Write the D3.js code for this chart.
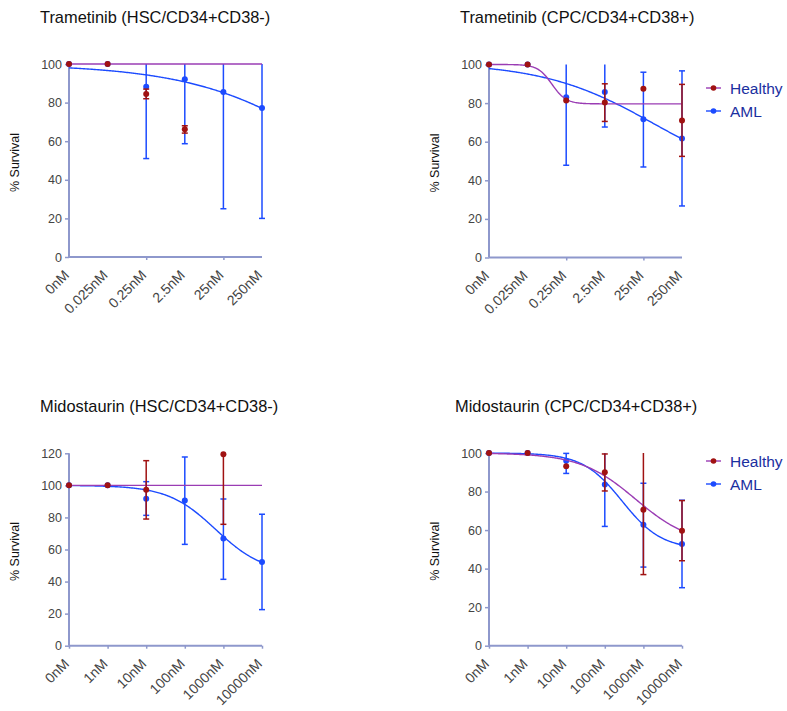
<!DOCTYPE html>
<html>
<head>
<meta charset="utf-8">
<script src="https://cdn.jsdelivr.net/npm/d3@7"></script>
<style>
  html, body { margin: 0; padding: 0; background: #fff; }
  svg { display: block; font-family: "Liberation Sans", Arial, sans-serif; }
</style>
</head>
<body>
<svg id="chart" width="787" height="711"></svg>
<script>
// Dose labels for the two drugs
const trametinibDoses = ["0nM", "0.025nM", "0.25nM", "2.5nM", "25nM", "250nM"];
const midostaurinDoses = ["0nM", "1nM", "10nM", "100nM", "1000nM", "10000nM"];

// Trametinib, HSC (CD34+CD38-)
const tramHscHealthy   = [100, 100, 84.5, 66.2, null, null];
const tramHscHealthyLo = [null, null, 82, 64.2, null, null];
const tramHscHealthyHi = [null, null, 87, 68, null, null];
const tramHscAml       = [100, 100, 88.2, 92.1, 85.5, 77.2];
const tramHscAmlLo     = [null, null, 51, 58.7, 25, 20];
const tramHscAmlHi     = [null, null, 125, 125, 145, 134];

// Trametinib, CPC (CD34+CD38+)
const tramCpcHealthy   = [100, 100, 81.4, 80.3, 87.4, 71];
const tramCpcHealthyLo = [null, null, null, 70.5, null, 52.4];
const tramCpcHealthyHi = [null, null, null, 90, null, 89.7];
const tramCpcAml       = [100, 100, 83, 85.7, 71.6, 61.7];
const tramCpcAmlLo     = [null, null, 47.8, 67.6, 46.9, 26.7];
const tramCpcAmlHi     = [null, null, 118, 104, 96, 96.7];

// Midostaurin, HSC (CD34+CD38-)
const midoHscHealthy   = [100, 100, 97.3, null, 119.4, null];
const midoHscHealthyLo = [null, null, 79, null, 75.7, null];
const midoHscHealthyHi = [null, null, 115.4, null, 163, null];
const midoHscAml       = [100, 100, 91.7, 90.5, 66.8, 52.2];
const midoHscAmlLo     = [null, null, 81.3, 63.2, 41.4, 22.5];
const midoHscAmlHi     = [null, null, 102.3, 117.7, 91.5, 82];

// Midostaurin, CPC (CD34+CD38+)
const midoCpcHealthy   = [100, 100, 93.1, 90, 70.6, 59.7];
const midoCpcHealthyLo = [null, null, null, 80.3, 36.9, 44.1];
const midoCpcHealthyHi = [null, null, null, 99.5, 104, 75.3];
const midoCpcAml       = [100, 100, 96, 83.7, 62.8, 52.8];
const midoCpcAmlLo     = [null, null, 89.4, 61.9, 40.8, 30.1];
const midoCpcAmlHi     = [null, null, 99.8, 103, 84.3, 75.5];

// Fitted dose-response parameters: [top, bottom, midpoint (dose index), Hill slope]
const tramHscHealthyFit = [100, 100, 0, 1];
const tramHscAmlFit     = [100, 0, 7.25, 0.233];
const tramCpcHealthyFit = [100, 79.6, 1.63, 2.37];
const tramCpcAmlFit     = [101, 37, 4.3, 0.3];
const midoHscHealthyFit = [100, 100, 0, 1];
const midoHscAmlFit     = [100, 45, 3.8, 0.7];
const midoCpcHealthyFit = [100, 52, 3.8, 0.6];
const midoCpcAmlFit     = [100, 50, 3.45, 0.85];

const COLORS = {
  axis: "#8e98cc",
  tickText: "#444",
  healthy: "#a01212",
  healthyFit: "#9a3cb4",
  aml: "#1c4bff",
  legendText: "#1b2fa0"
};

const panels = [
  { title: "Trametinib (HSC/CD34+CD38-)", titleX: 40, titleY: 23,
    x0: 69, x1: 262, yTop: 64, yBottom: 257, yMax: 100,
    doses: trametinibDoses, xTicks: [2, 4], legend: false,
    healthy: [tramHscHealthy, tramHscHealthyLo, tramHscHealthyHi, tramHscHealthyFit],
    aml: [tramHscAml, tramHscAmlLo, tramHscAmlHi, tramHscAmlFit] },
  { title: "Trametinib (CPC/CD34+CD38+)", titleX: 460, titleY: 23,
    x0: 489, x1: 682, yTop: 64.5, yBottom: 257.5, yMax: 100,
    doses: trametinibDoses, xTicks: [2, 4], legend: { y: 88 },
    healthy: [tramCpcHealthy, tramCpcHealthyLo, tramCpcHealthyHi, tramCpcHealthyFit],
    aml: [tramCpcAml, tramCpcAmlLo, tramCpcAmlHi, tramCpcAmlFit] },
  { title: "Midostaurin (HSC/CD34+CD38-)", titleX: 40, titleY: 412,
    x0: 69, x1: 262, yTop: 453.3, yBottom: 645.7, yMax: 120,
    doses: midostaurinDoses, xTicks: [0, 1, 2, 3, 4, 5], legend: false,
    healthy: [midoHscHealthy, midoHscHealthyLo, midoHscHealthyHi, midoHscHealthyFit],
    aml: [midoHscAml, midoHscAmlLo, midoHscAmlHi, midoHscAmlFit] },
  { title: "Midostaurin (CPC/CD34+CD38+)", titleX: 455, titleY: 412,
    x0: 489, x1: 682, yTop: 453, yBottom: 645.7, yMax: 100,
    doses: midostaurinDoses, xTicks: [0, 1, 2, 3, 4, 5], legend: { y: 461 },
    healthy: [midoCpcHealthy, midoCpcHealthyLo, midoCpcHealthyHi, midoCpcHealthyFit],
    aml: [midoCpcAml, midoCpcAmlLo, midoCpcAmlHi, midoCpcAmlFit] }
];

const svg = d3.select("#chart");

// Four-parameter logistic on the dose index
function logistic(p, x) {
  const [top, bottom, mid, hill] = p;
  return bottom + (top - bottom) / (1 + Math.pow(10, (x - mid) * hill));
}

panels.forEach(p => {
  const g = svg.append("g");
  const x = d3.scaleLinear().domain([0, 5]).range([p.x0, p.x1]);
  const y = d3.scaleLinear().domain([0, p.yMax]).range([p.yBottom, p.yTop]);

  // Title
  g.append("text")
    .attr("x", p.titleX).attr("y", p.titleY)
    .attr("font-size", 16.4).attr("fill", "#111")
    .text(p.title);

  // Y axis
  const yAxis = d3.axisLeft(y).tickValues(d3.range(0, p.yMax + 1, 20))
    .tickSize(4).tickPadding(3);
  const ya = g.append("g").attr("transform", `translate(${p.x0},0)`).call(yAxis);
  ya.select(".domain").attr("stroke", COLORS.axis).attr("stroke-width", 2)
    .attr("d", `M0,${p.yBottom}V${p.yTop}`);
  ya.selectAll(".tick line").attr("stroke", COLORS.axis).attr("stroke-width", 1.5);
  ya.selectAll(".tick text").attr("fill", COLORS.tickText).attr("font-size", 12.5)
    .attr("font-family", "Liberation Sans, Arial, sans-serif");

  // X axis
  const xAxis = d3.axisBottom(x).tickValues(p.xTicks).tickSize(3).tickFormat("");
  const xa = g.append("g").attr("transform", `translate(0,${p.yBottom})`).call(xAxis);
  xa.select(".domain").attr("stroke", COLORS.axis).attr("stroke-width", 2)
    .attr("d", `M${p.x0},0H${p.x1}`);
  xa.selectAll(".tick line").attr("stroke", COLORS.axis).attr("stroke-width", 1.5);

  // Rotated dose labels
  g.append("g").selectAll("text").data(p.doses).join("text")
    .attr("transform", (d, i) => `translate(${x(i) + 1},${p.yBottom + 19}) rotate(-45)`)
    .attr("text-anchor", "end")
    .attr("font-size", 14).attr("fill", COLORS.tickText)
    .text(d => d);

  // Y axis title
  g.append("text")
    .attr("transform", `translate(${p.x0 - 50},${(p.yTop + p.yBottom) / 2 + 2}) rotate(-90)`)
    .attr("text-anchor", "middle").attr("font-size", 12.5).attr("fill", "#111")
    .text("% Survival");

  const clampY = v => y(Math.min(v, p.yMax));
  const xs = d3.range(0, 5.0001, 0.025);

  function drawSeries(series, color, fitColor) {
    const [vals, lo, hi, fit] = series;
    // fitted curve
    g.append("path")
      .datum(xs.map(t => ({ t, v: logistic(fit, t) })))
      .attr("fill", "none").attr("stroke", fitColor).attr("stroke-width", 1.4)
      .attr("d", d3.line().x(d => x(d.t)).y(d => clampY(d.v)));
    // error bars
    const eb = vals.map((v, i) => ({ i, v, lo: lo[i], hi: hi[i] }))
      .filter(d => d.v != null && d.lo != null && d.hi != null);
    const ebG = g.append("g").attr("stroke", color).attr("stroke-width", 1.5);
    ebG.selectAll("line.bar").data(eb).join("line").attr("class", "bar")
      .attr("x1", d => x(d.i)).attr("x2", d => x(d.i))
      .attr("y1", d => clampY(d.lo)).attr("y2", d => clampY(d.hi));
    ebG.selectAll("line.capLo").data(eb).join("line").attr("class", "capLo")
      .attr("x1", d => x(d.i) - 3).attr("x2", d => x(d.i) + 3)
      .attr("y1", d => clampY(d.lo)).attr("y2", d => clampY(d.lo));
    ebG.selectAll("line.capHi").data(eb.filter(d => d.hi <= p.yMax)).join("line").attr("class", "capHi")
      .attr("x1", d => x(d.i) - 3).attr("x2", d => x(d.i) + 3)
      .attr("y1", d => clampY(d.hi)).attr("y2", d => clampY(d.hi));
    // points
    g.append("g").selectAll("circle")
      .data(vals.map((v, i) => ({ i, v })).filter(d => d.v != null))
      .join("circle")
      .attr("cx", d => x(d.i)).attr("cy", d => y(d.v)).attr("r", 3)
      .attr("fill", color);
  }

  drawSeries(p.aml, COLORS.aml, COLORS.aml);
  drawSeries(p.healthy, COLORS.healthy, COLORS.healthyFit);

  // Legend
  if (p.legend) {
    const items = [
      { name: "Healthy", color: COLORS.healthy, lineColor: COLORS.healthyFit },
      { name: "AML", color: COLORS.aml, lineColor: COLORS.aml }
    ];
    const lg = g.append("g").attr("transform", `translate(706,${p.legend.y})`);
    items.forEach((it, k) => {
      const row = lg.append("g").attr("transform", `translate(0,${k * 23})`);
      row.append("line").attr("x1", 0).attr("x2", 15).attr("y1", 0).attr("y2", 0)
        .attr("stroke", it.lineColor).attr("stroke-width", 1.4);
      row.append("circle").attr("cx", 7.5).attr("cy", 0).attr("r", 2.8).attr("fill", it.color);
      row.append("text").attr("x", 24).attr("y", 5.5)
        .attr("font-size", 15.5).attr("fill", COLORS.legendText).text(it.name);
    });
  }
});
</script>
</body>
</html>
